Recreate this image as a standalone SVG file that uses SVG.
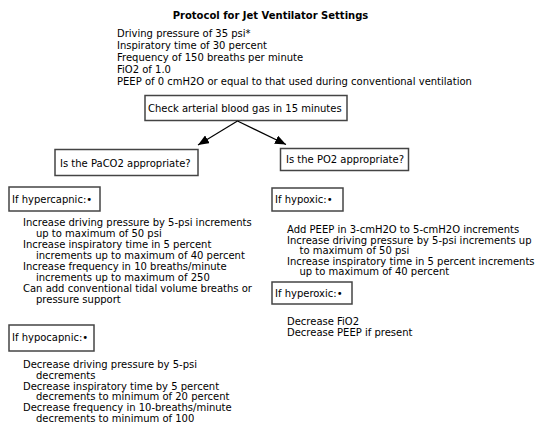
<svg xmlns="http://www.w3.org/2000/svg" width="546" height="427" viewBox="0 0 546 427">
<defs>
<marker id="ah" markerWidth="11" markerHeight="9" refX="11" refY="4.5" orient="auto" markerUnits="userSpaceOnUse">
<path d="M0,0 L11,4.5 L0,9 Z" fill="#000"/>
</marker>
<style>
text{font-family:"DejaVu Sans","Verdana",sans-serif;font-size:10px;fill:#000}
.t{font-weight:bold}
.box{fill:#fff;stroke:#444;stroke-width:1.5}
.con{stroke:#000;stroke-width:1.2;fill:none}
</style>
</defs>
<rect width="546" height="427" fill="#fff"/>
<text class="t" x="270.5" y="19" text-anchor="middle">Protocol for Jet Ventilator Settings</text>
<g id="initial">
<text x="117" y="37">Driving pressure of 35 psi*</text>
<text x="117" y="49">Inspiratory time of 30 percent</text>
<text x="117" y="61">Frequency of 150 breaths per minute</text>
<text x="117" y="73">FiO2 of 1.0</text>
<text x="117" y="85">PEEP of 0 cmH2O or equal to that used during conventional ventilation</text>
</g>
<g id="check">
<rect class="box" x="145" y="95.5" width="202" height="25"/>
<text x="148" y="111.5">Check arterial blood gas in 15 minutes</text>
</g>
<g id="connectors">
<line class="con" x1="237.5" y1="121" x2="198" y2="145" marker-end="url(#ah)"/>
<line class="con" x1="237.5" y1="121" x2="286" y2="144.5" marker-end="url(#ah)"/>
</g>
<g id="paco2">
<rect class="box" x="55" y="149.5" width="143" height="26"/>
<text x="60" y="166.5">Is the PaCO2 appropriate?</text>
</g>
<g id="po2">
<rect class="box" x="280.5" y="148.5" width="128" height="22"/>
<text x="286" y="163">Is the PO2 appropriate?</text>
</g>
<g id="hypercapnic">
<rect class="box" x="9" y="187" width="91" height="24"/>
<text x="12" y="203">If hypercapnic:•</text>
<text x="23" y="226">Increase driving pressure by 5-psi increments</text>
<text x="36" y="237">up to maximum of 50 psi</text>
<text x="23" y="248">Increase inspiratory time in 5 percent</text>
<text x="36" y="259">increments up to maximum of 40 percent</text>
<text x="23" y="270">Increase frequency in 10 breaths/minute</text>
<text x="36" y="281">increments up to maximum of 250</text>
<text x="23" y="292">Can add conventional tidal volume breaths or</text>
<text x="36" y="303">pressure support</text>
</g>
<g id="hypocapnic">
<rect class="box" x="9" y="325" width="85" height="26"/>
<text x="12" y="341">If hypocapnic:•</text>
<text x="23" y="368">Decrease driving pressure by 5-psi</text>
<text x="36" y="378.8">decrements</text>
<text x="23" y="389.6">Decrease inspiratory time by 5 percent</text>
<text x="36" y="400.4">decrements to minimum of 20 percent</text>
<text x="23" y="411.2">Decrease frequency in 10-breaths/minute</text>
<text x="36" y="422">decrements to minimum of 100</text>
</g>
<g id="hypoxic">
<rect class="box" x="272" y="188" width="71" height="23"/>
<text x="275" y="203">If hypoxic:•</text>
<text x="287" y="233">Add PEEP in 3-cmH2O to 5-cmH2O increments</text>
<text x="287" y="243.5">Increase driving pressure by 5-psi increments up</text>
<text x="299.5" y="254">to maximum of 50 psi</text>
<text x="287" y="264.5">Increase inspiratory time in 5 percent increments</text>
<text x="299.5" y="275">up to maximum of 40 percent</text>
</g>
<g id="hyperoxic">
<rect class="box" x="272" y="282" width="80" height="22"/>
<text x="275" y="297">If hyperoxic:•</text>
<text x="287" y="325">Decrease FiO2</text>
<text x="287" y="335.5">Decrease PEEP if present</text>
</g>
</svg>
